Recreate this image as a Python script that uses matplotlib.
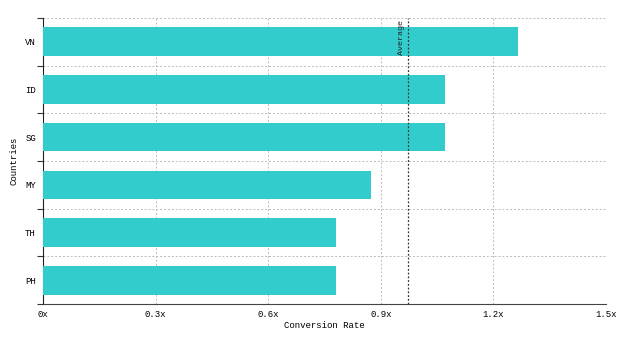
import numpy as np
import matplotlib.pyplot as plt
from matplotlib.ticker import FixedLocator

countries = ['VN', 'ID', 'SG', 'MY', 'TH', 'PH']
rates = [1.265, 1.07, 1.07, 0.875, 0.78, 0.78]
xticks = [0, 0.3, 0.6, 0.9, 1.2, 1.5]
xlabels = ['0x', '0.3x', '0.6x', '0.9x', '1.2x', '1.5x']

plt.rcParams['font.family'] = ['Liberation Mono', 'DejaVu Sans Mono']
plt.rcParams['font.size'] = 6.5

fig = plt.figure(figsize=(6.4, 3.44), dpi=100)
ax = fig.add_axes([0.067, 0.116, 0.88, 0.832])

y = np.arange(len(countries))
ax.barh(y, rates, height=0.6, color='#33CCCC', zorder=3)
ax.set_ylim(len(countries) - 0.5, -0.5)
ax.set_xlim(0, 1.5)

ax.set_yticks(y)
ax.set_yticklabels(countries)
ax.yaxis.set_minor_locator(FixedLocator(np.arange(-0.5, len(countries), 1)))
ax.tick_params(axis='y', which='major', length=0, pad=5)
ax.tick_params(axis='y', which='minor', length=4, width=0.8, color='#333333')
ax.set_xticks(xticks)
ax.set_xticklabels(xlabels)
ax.tick_params(axis='x', length=0, pad=4)

ax.grid(axis='x', which='major', color='#bbbbbb', linestyle=(0, (2, 2)), linewidth=0.7, zorder=0)
ax.grid(axis='y', which='minor', color='#bbbbbb', linestyle=(0, (2, 2)), linewidth=0.7, zorder=0)

for s in ['top', 'right']:
    ax.spines[s].set_visible(False)
ax.spines['left'].set_color('#222222')
ax.spines['bottom'].set_color('#444444')

avg = np.mean(rates)
ax.axvline(avg, color='#333333', linestyle=(0, (1.5, 1.5)), linewidth=0.9, zorder=4)
ax.text(avg - 0.008, -0.45, 'Average', rotation=90, ha='right', va='top', fontsize=6, color='#222222', zorder=5)

ax.set_xlabel('Conversion Rate', labelpad=2)
ax.set_ylabel('Countries', labelpad=5)

fig.savefig('out.png', dpi=100)
